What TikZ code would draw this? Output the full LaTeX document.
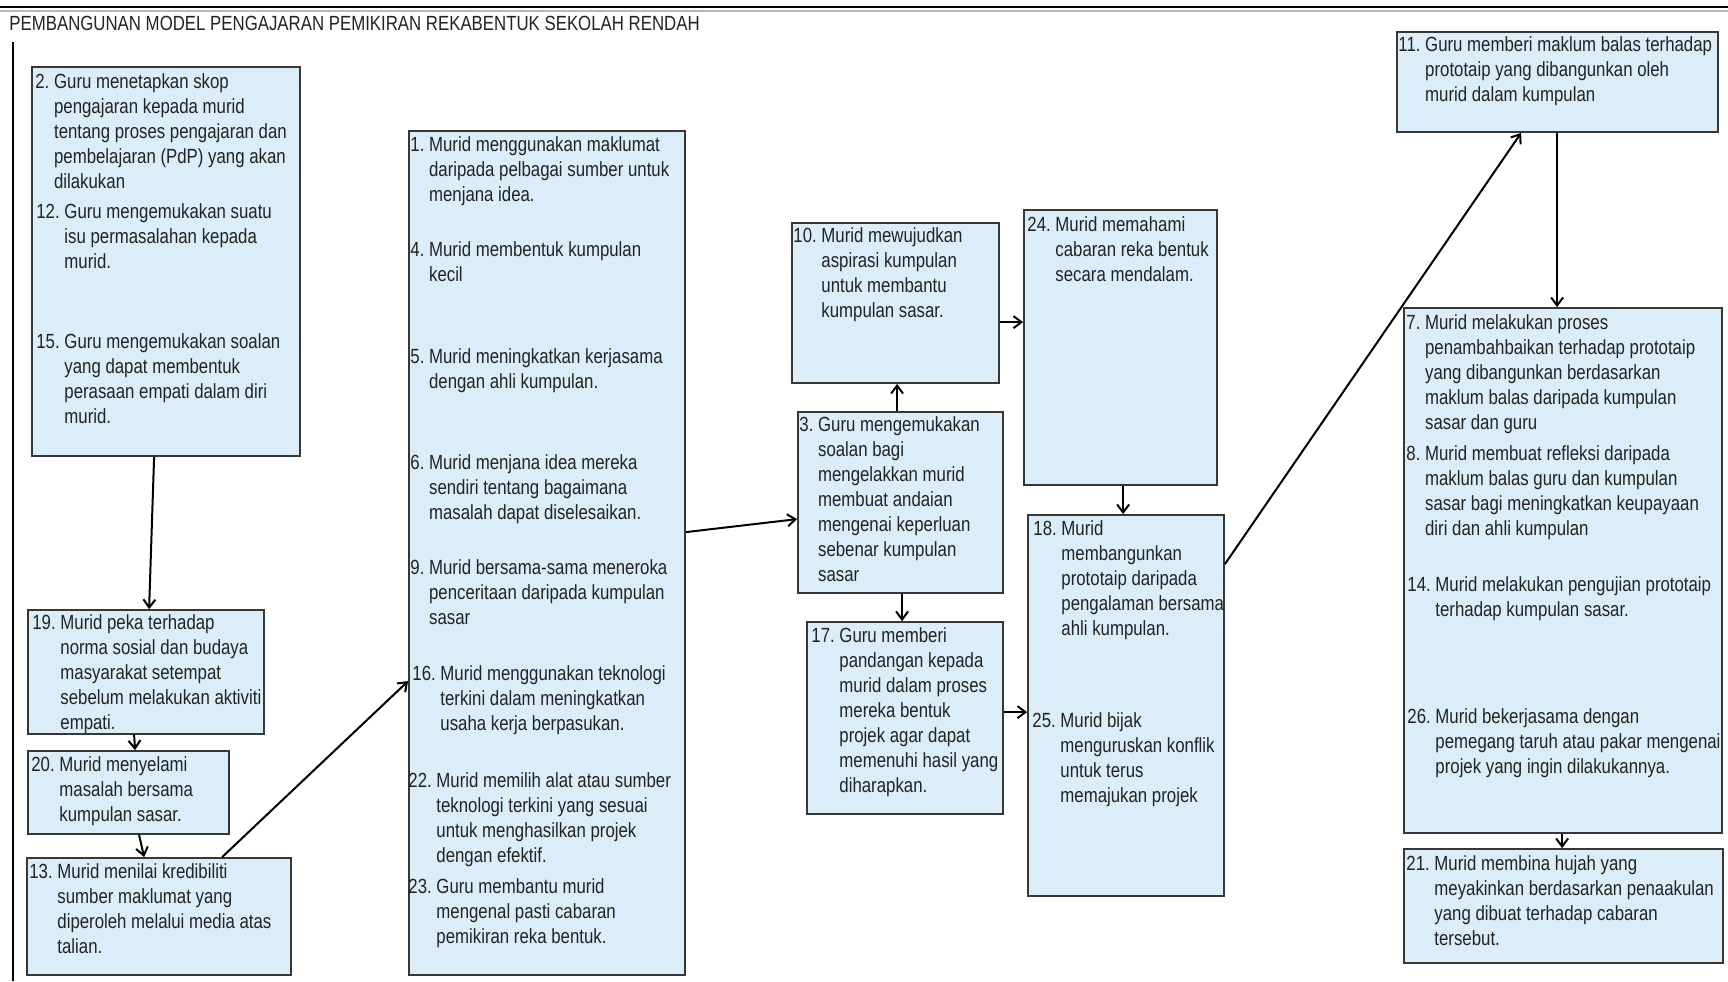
\documentclass[tikz,border=0pt]{standalone}
\usepackage{fontspec}
\setmainfont{Liberation Sans}[FakeStretch=0.82]
\usetikzlibrary{arrows.meta,calc,fit}
\definecolor{boxfill}{RGB}{219,237,248}
\definecolor{boxline}{RGB}{55,55,55}
\definecolor{txt}{RGB}{35,35,35}
% numbered entry with hanging indent
\newcommand\itm[2]{#1\ \begin{tabular}[t]{@{}l@{}}#2\end{tabular}}
\begin{document}
\begin{tikzpicture}[x=0.5pt,y=-0.5pt,
  box/.style={draw=boxline, line width=0.9pt, fill=boxfill, inner sep=0pt},
  item/.style={inner sep=0pt, anchor=base west, text=txt,
    font=\fontsize{10.25pt}{12.5pt}\selectfont},
  flow/.style={draw=black, line width=1pt, -{Straight Barb[length=4pt,width=6pt]}}]

\useasboundingbox[fill=white] (0,0) rectangle (1728,981);

% frame
\draw[line width=1.2pt] (0,7) -- (1728,7);
\draw[gray!55, line width=1pt] (0,10.5) -- (1728,10.5);
\draw[line width=1.2pt] (13,42) -- (13,981);

\node[item] (title) at (9,30) {PEMBANGUNAN MODEL PENGAJARAN PEMIKIRAN REKABENTUK SEKOLAH RENDAH};

% boxes
\node[box, fit={(32,67) (300,456)}] (b2) {};
\node[box, fit={(28,610) (264,734)}] (b19) {};
\node[box, fit={(28,751) (229,834)}] (b20) {};
\node[box, fit={(27,858) (291,975)}] (b13) {};
\node[box, fit={(409,131) (685,975)}] (b1) {};
\node[box, fit={(792,223) (999,383)}] (b10) {};
\node[box, fit={(798,412) (1003,593)}] (b3) {};
\node[box, fit={(807,622) (1003,814)}] (b17) {};
\node[box, fit={(1024,210) (1217,485)}] (b24) {};
\node[box, fit={(1028,515) (1224,896)}] (b18) {};
\node[box, fit={(1397,32) (1718,132)}] (b11) {};
\node[box, fit={(1404,308) (1722,833)}] (b7) {};
\node[box, fit={(1404,849) (1723,963)}] (b21) {};

% texts
\node[item] (t2a) at (35,88) {\itm{2.}{Guru menetapkan skop\\pengajaran kepada murid\\tentang proses pengajaran dan\\pembelajaran (PdP) yang akan\\dilakukan}};
\node[item] (t2b) at (36,218) {\itm{12.}{Guru mengemukakan suatu\\isu permasalahan kepada\\murid.}};
\node[item] (t2c) at (36,348) {\itm{15.}{Guru mengemukakan soalan\\yang dapat membentuk\\perasaan empati dalam diri\\murid.}};

\node[item] (t19) at (32,629) {\itm{19.}{Murid peka terhadap\\norma sosial dan budaya\\masyarakat setempat\\sebelum melakukan aktiviti\\empati.}};
\node[item] (t20) at (31,771) {\itm{20.}{Murid menyelami\\masalah bersama\\kumpulan sasar.}};
\node[item] (t13) at (29,878) {\itm{13.}{Murid menilai kredibiliti\\sumber maklumat yang\\diperoleh melalui media atas\\talian.}};

\node[item] (t1a) at (410,151) {\itm{1.}{Murid menggunakan maklumat\\daripada pelbagai sumber untuk\\menjana idea.}};
\node[item] (t1b) at (410,256) {\itm{4.}{Murid membentuk kumpulan\\kecil}};
\node[item] (t1c) at (410,363) {\itm{5.}{Murid meningkatkan kerjasama\\dengan ahli kumpulan.}};
\node[item] (t1d) at (410,469) {\itm{6.}{Murid menjana idea mereka\\sendiri tentang bagaimana\\masalah dapat diselesaikan.}};
\node[item] (t1e) at (410,574) {\itm{9.}{Murid bersama-sama meneroka\\penceritaan daripada kumpulan\\sasar}};
\node[item] (t1f) at (412,680) {\itm{16.}{Murid menggunakan teknologi\\terkini dalam meningkatkan\\usaha kerja berpasukan.}};
\node[item] (t1g) at (408,787) {\itm{22.}{Murid memilih alat atau sumber\\teknologi terkini yang sesuai\\untuk menghasilkan projek\\dengan efektif.}};
\node[item] (t1h) at (408,893) {\itm{23.}{Guru membantu murid\\mengenal pasti cabaran\\pemikiran reka bentuk.}};

\node[item] (t10) at (793,242) {\itm{10.}{Murid mewujudkan\\aspirasi kumpulan\\untuk membantu\\kumpulan sasar.}};
\node[item] (t3) at (799,431) {\itm{3.}{Guru mengemukakan\\soalan bagi\\mengelakkan murid\\membuat andaian\\mengenai keperluan\\sebenar kumpulan\\sasar}};
\node[item] (t17) at (811,642) {\itm{17.}{Guru memberi\\pandangan kepada\\murid dalam proses\\mereka bentuk\\projek agar dapat\\memenuhi hasil yang\\diharapkan.}};

\node[item] (t24) at (1027,231) {\itm{24.}{Murid memahami\\cabaran reka bentuk\\secara mendalam.}};
\node[item] (t18a) at (1033,535) {\itm{18.}{Murid\\membangunkan\\prototaip daripada\\pengalaman bersama\\ahli kumpulan.}};
\node[item] (t18b) at (1032,727) {\itm{25.}{Murid bijak\\menguruskan konflik\\untuk terus\\memajukan projek}};

\node[item] (t11) at (1398,51) {\itm{11.}{Guru memberi maklum balas terhadap\\prototaip yang dibangunkan oleh\\murid dalam kumpulan}};
\node[item] (t7a) at (1406,329) {\itm{7.}{Murid melakukan proses\\penambahbaikan terhadap prototaip\\yang dibangunkan berdasarkan\\maklum balas daripada kumpulan\\sasar dan guru}};
\node[item] (t7b) at (1406,460) {\itm{8.}{Murid membuat refleksi daripada\\maklum balas guru dan kumpulan\\sasar bagi meningkatkan keupayaan\\diri dan ahli kumpulan}};
\node[item] (t7c) at (1407,591) {\itm{14.}{Murid melakukan pengujian prototaip\\terhadap kumpulan sasar.}};
\node[item] (t7d) at (1407,723) {\itm{26.}{Murid bekerjasama dengan\\pemegang taruh atau pakar mengenai\\projek yang ingin dilakukannya.}};
\node[item] (t21) at (1406,870) {\itm{21.}{Murid membina hujah yang\\meyakinkan berdasarkan penaakulan\\yang dibuat terhadap cabaran\\tersebut.}};

% connectors
\draw[flow] ($(b2.south west)+(123,0)$) -- ($(b19.north west)+(122,0)$);
\draw[flow] ($(b19.south west)+(107,0)$) -- ($(b20.north west)+(108,0)$);
\draw[flow] ($(b20.south west)+(112,0)$) -- ($(b13.north west)+(118,0)$);
\draw[flow] ($(b13.north west)+(196,0)$) -- ($(b1.north west)+(0,551)$);
\draw[flow] ($(b1.north east)+(0,402)$) -- ($(b3.north west)+(0,108)$);
\draw[flow] ($(b3.north west)+(100,0)$) -- ($(b10.south west)+(106,0)$);
\draw[flow] ($(b3.south west)+(105,0)$) -- ($(b17.north west)+(96,0)$);
\draw[flow] ($(b10.north east)+(0,100)$) -- ($(b24.north west)+(0,113)$);
\draw[flow] ($(b17.north east)+(0,91)$) -- ($(b18.north west)+(0,198)$);
\draw[flow] ($(b24.south west)+(100,0)$) -- ($(b18.north west)+(96,0)$);
\draw[flow] ($(b18.north east)+(0,50)$) -- ($(b11.south west)+(125,0)$);
\draw[flow] ($(b11.south west)+(161,0)$) -- ($(b7.north west)+(154,0)$);
\draw[flow] ($(b7.south west)+(159,0)$) -- ($(b21.north west)+(159,0)$);
\end{tikzpicture}
\end{document}
